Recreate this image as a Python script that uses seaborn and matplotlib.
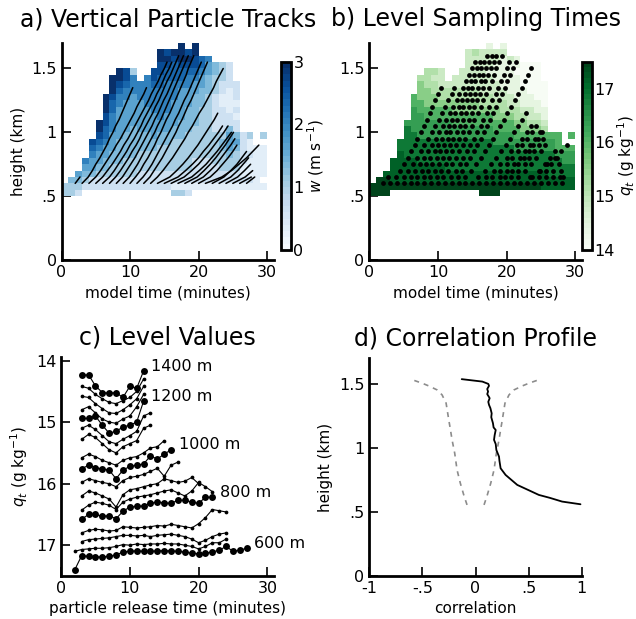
import numpy as np
import pandas as pd
import matplotlib
matplotlib.use("Agg")
import matplotlib.pyplot as plt
import seaborn as sns

# ---------------- data ----------------
# gridded fields, 1-minute x 50-m cells, one character per cell, top row (1.65-1.70 km) first
# vertical velocity code: w = code / 3 (m/s)
W_ROWS = [
    ".................9.9..........",
    "..............989989..........",
    "..............99899876........",
    "..............88788875432.....",
    "........983..887777765432.....",
    ".......9986.6877776654332.....",
    ".......9876667766665543222....",
    ".......9766666666555443212....",
    "......98665666666554432112....",
    "......97655566665554432111....",
    "......97555556665544332212....",
    "......86555555655544332221....",
    ".....986555555555444332222....",
    ".....976554555554443332242....",
    ".....87554444544443333335423.3",
    "....876544444444333333345521..",
    "....76554444443333333334542111",
    "....65544443333333333333432211",
    "...655444333333333322233332111",
    "...554433333333333322223331111",
    "..5443333332222222222222221111",
    ".4432222222222222222222222221",
    "333222222222222211111111111111",
    "332.............332...........",
]
# total water code: qt = 14 + 0.4 * code (g/kg)
QT_ROWS = [
    ".................1.1..........",
    "..............232222..........",
    "..............22222121........",
    "..............22221111000.....",
    "........332..222211110000.....",
    ".......3322.2222221111000.....",
    ".......4332222222221110000....",
    ".......4433333332222111000....",
    "......54443333333322211100....",
    "......55444444443333221110....",
    "......65555544444443332211....",
    "......66555555555544433221....",
    ".....666666655555555544332....",
    ".....766666666666655554443....",
    ".....77666666666666665555555.5",
    "....777777777777776666666665..",
    "....77777777777777777666666555",
    "....87777777777777777777777666",
    "...888877777777777777777777766",
    "...888888887777777777777777777",
    "..8888888888888888888888887777",
    ".99888888888888888888888888888",
    "999999999999999999999999988888",
    "999.............999...........",
]
TIME_EDGES = np.arange(0, 31, 1)
HEIGHT_EDGES = np.round(np.arange(0.5, 1.7001, 0.05), 3)

# particle tracks: time (min) at which each particle crosses the 50-m levels
LEVELS_KM = [0.60, 0.65, 0.70, 0.75, 0.80, 0.85, 0.90, 0.95, 1.00, 1.05, 1.10,
             1.15, 1.20, 1.25, 1.30, 1.35, 1.40, 1.45, 1.50, 1.55, 1.60]
TRACK_TIMES = [
    [2.0, 2.7],
    [3.0, 3.9, 4.5, 5.0, 5.6, 6.1, 6.6, 7.0, 7.5, 7.9, 8.4, 8.8, 9.2, 9.6, 10.0, 10.4],
    [4.0, 5.0, 5.7, 6.3, 6.9, 7.5, 8.0, 8.6, 9.1, 9.6, 10.1, 10.6, 11.0, 11.5, 12.0, 12.4],
    [5.0, 6.0, 6.7, 7.4, 8.0, 8.6, 9.1, 9.7, 10.2, 10.7, 11.2, 11.7, 12.2, 12.7, 13.1, 13.6, 14.1, 14.5, 15.0, 15.4],
    [6.0, 7.0, 7.7, 8.3, 8.9, 9.5, 10.0, 10.6, 11.1, 11.6, 12.0, 12.5, 13.0, 13.5, 13.9, 14.4, 14.8, 15.2, 15.7, 16.1],
    [7.0, 7.9, 8.6, 9.2, 9.8, 10.3, 10.9, 11.4, 11.8, 12.3, 12.8, 13.3, 13.7, 14.2, 14.6, 15.0, 15.4, 15.9, 16.3, 16.7, 17.1],
    [8.0, 8.9, 9.5, 10.1, 10.7, 11.2, 11.7, 12.2, 12.7, 13.2, 13.6, 14.1, 14.5, 14.9, 15.4, 15.8, 16.2, 16.6, 17.0, 17.4, 17.8],
    [9.0, 9.9, 10.5, 11.1, 11.6, 12.1, 12.6, 13.1, 13.6, 14.0, 14.5, 14.9, 15.3, 15.7, 16.1, 16.5, 16.9, 17.3, 17.7, 18.1, 18.5],
    [10.0, 10.8, 11.5, 12.0, 12.6, 13.1, 13.6, 14.0, 14.5, 14.9, 15.3, 15.8, 16.2, 16.6, 17.0, 17.4, 17.8, 18.2, 18.5, 18.9, 19.3],
    [11.0, 11.9, 12.6, 13.2, 13.7, 14.2, 14.7, 15.2, 15.7, 16.2, 16.6, 17.1, 17.5, 17.9, 18.4, 18.8, 19.2, 19.6, 20.0, 20.4],
    [12.0, 12.9, 13.5, 14.1, 14.7, 15.2, 15.7, 16.2, 16.7, 17.1, 17.6, 18.0, 18.4, 18.9, 19.3, 19.7, 20.1, 20.5, 20.9, 21.3],
    [13.0, 14.0, 14.8, 15.5, 16.2, 16.8, 17.4, 18.0, 18.5, 19.1, 19.6, 20.1, 20.7, 21.2, 21.7, 22.2, 22.6, 23.1, 23.6],
    [14.0, 15.8, 16.8, 17.7, 18.5, 19.2, 19.9, 20.5, 21.1, 21.7, 22.3, 22.8],
    [15.0, 17.0, 18.1, 19.1, 20.0, 20.7, 21.5, 22.2, 22.9, 23.5],
    [16.0, 17.9, 19.0, 20.0, 20.8, 21.6, 22.3, 23.0, 23.7, 24.3],
    [17.0, 19.0, 20.1, 21.1, 21.9, 22.7, 23.4, 24.1, 24.8],
    [18.0, 19.8, 20.8, 21.7, 22.5, 23.2, 23.9, 24.5, 25.1],
    [19.0, 20.7, 21.7, 22.6, 23.3, 24.0, 24.7, 25.3],
    [20.0, 21.7, 22.7, 23.5, 24.3, 25.0, 25.6],
    [21.0, 23.4, 24.8, 25.9, 27.0, 27.9, 28.8],
    [22.0, 23.7, 24.7, 25.6, 26.3, 27.0],
    [23.0, 24.7, 25.7, 26.5, 27.3],
    [24.0, 25.7, 26.7, 27.6],
    [25.0, 26.8, 27.9],
    [26.0, 27.7],
    [27.0, 28.2],
    [28.0],
]

# panel c: qt (g/kg) at each level vs particle release time (min)
LEVEL_M = [600, 650, 700, 750, 800, 850, 900, 950, 1000, 1050, 1100, 1150, 1200, 1250, 1300, 1350, 1400]
LABELED_LEVELS = [600, 800, 1000, 1200, 1400]
RELEASE_START = [2, 2, 3, 3, 3, 3, 3, 3, 3, 3, 3, 3, 3, 3, 3, 3, 3]
QT_600 = [17.40, 17.17, 17.18, 17.19, 17.19, 17.18, 17.16, 17.11, 17.10, 17.09, 17.10, 17.10, 17.09,
          17.09, 17.09, 17.10, 17.11, 17.13, 17.14, 17.13, 17.11, 17.08, 17.02, 17.10, 17.08, 17.05]
QT_650 = [17.10, 17.07, 17.06, 17.05, 17.05, 17.04, 17.02, 16.99, 17.00, 16.98, 16.99, 16.98, 16.98,
          16.97, 16.98, 16.98, 17.00, 17.02, 17.06, 17.02, 16.96, 16.96, 16.90]
QT_700 = [16.94, 16.91, 16.90, 16.89, 16.88, 16.86, 16.84, 16.84, 16.85, 16.84, 16.86, 16.84, 16.83,
          16.82, 16.84, 16.86, 16.90, 16.96, 16.92, 16.86, 16.82, 16.80]
QT_750 = [16.80, 16.76, 16.74, 16.75, 16.77, 16.76, 16.70, 16.71, 16.72, 16.71, 16.70, 16.68, 16.69,
          16.66, 16.68, 16.70, 16.72, 16.65, 16.55, 16.42, 16.44, 16.46]
QT_800 = [16.58, 16.50, 16.50, 16.53, 16.52, 16.57, 16.45, 16.38, 16.37, 16.36, 16.32, 16.30, 16.31,
          16.32, 16.27, 16.27, 16.30, 16.32, 16.22, 16.22]
QT_850 = [16.43, 16.35, 16.30, 16.32, 16.35, 16.42, 16.30, 16.25, 16.22, 16.20, 16.18, 16.15, 16.12,
          16.10, 16.15, 16.20, 16.12, 15.98, 16.05, 16.13]
QT_900 = [16.20, 16.12, 16.15, 16.20, 16.25, 16.38, 16.18, 16.10, 16.08, 16.05, 16.02, 16.00, 15.92,
          15.95, 15.98, 15.96, 15.90, 16.00]
QT_950 = [15.98, 15.92, 15.95, 15.98, 16.00, 16.05, 15.95, 15.90, 15.88, 15.85, 15.80, 15.75, 15.88,
          15.70, 15.65]
QT_1000 = [15.76, 15.70, 15.74, 15.76, 15.78, 15.92, 15.78, 15.72, 15.70, 15.68, 15.55, 15.60, 15.52, 15.45]
QT_1050 = [15.58, 15.52, 15.56, 15.62, 15.66, 15.70, 15.62, 15.58, 15.56, 15.50, 15.42, 15.40, 15.30]
QT_1100 = [15.28, 15.20, 15.25, 15.35, 15.45, 15.50, 15.40, 15.35, 15.30, 15.10, 15.05]
QT_1150 = [15.10, 15.05, 15.12, 15.22, 15.32, 15.35, 15.28, 15.22, 15.15, 14.90, 14.85]
QT_1200 = [14.94, 14.94, 14.90, 15.05, 15.18, 15.15, 15.08, 15.05, 15.00, 14.66]
QT_1250 = [14.80, 14.75, 14.85, 14.95, 15.00, 15.02, 14.95, 14.90, 14.75, 14.55]
QT_1300 = [14.58, 14.60, 14.70, 14.78, 14.85, 14.86, 14.80, 14.72, 14.62, 14.42]
QT_1350 = [14.42, 14.45, 14.55, 14.62, 14.68, 14.70, 14.65, 14.60, 14.50, 14.30]
QT_1400 = [14.24, 14.23, 14.41, 14.52, 14.53, 14.52, 14.60, 14.42, 14.45, 14.17]
QT_LEVELS = [QT_600, QT_650, QT_700, QT_750, QT_800, QT_850, QT_900, QT_950, QT_1000,
             QT_1050, QT_1100, QT_1150, QT_1200, QT_1250, QT_1300, QT_1350, QT_1400]

# panel d: correlation profile and significance threshold
CORR_HEIGHT = [1.537, 1.518, 1.500, 1.485, 1.460, 1.440, 1.420, 1.400, 1.388, 1.360, 1.336, 1.310,
               1.270, 1.240, 1.193, 1.160, 1.140, 1.100, 1.063, 1.030, 0.984, 0.932, 0.900, 0.841,
               0.789, 0.711, 0.670, 0.633, 0.610, 0.581, 0.560]
CORR_VALUE = [-0.13, 0.064, 0.120, 0.127, 0.110, 0.118, 0.110, 0.125, 0.133, 0.120, 0.127, 0.140,
              0.152, 0.148, 0.164, 0.170, 0.190, 0.180, 0.174, 0.190, 0.196, 0.221, 0.225, 0.236,
              0.283, 0.393, 0.500, 0.596, 0.700, 0.815, 0.988]
SIG_HEIGHT = [0.555, 0.633, 0.724, 0.828, 0.958, 1.063, 1.141, 1.219, 1.349, 1.414, 1.453, 1.484, 1.505, 1.537]
SIG_VALUE = [0.080, 0.111, 0.143, 0.174, 0.196, 0.221, 0.236, 0.252, 0.277, 0.315, 0.362, 0.440, 0.502, 0.612]

# ---------------- helpers ----------------
def decode(rows, scale, offset):
    arr = np.full((len(rows), len(rows[0])), np.nan)
    for i, r in enumerate(rows[::-1]):
        for j, ch in enumerate(r):
            if ch != '.':
                arr[i, j] = offset + scale * int(ch)
    return arr

W = decode(W_ROWS, 1.0 / 3.0, 0.0)
QT = decode(QT_ROWS, 0.4, 14.0)

tracks = pd.DataFrame([
    {"track": i, "t": t, "z": LEVELS_KM[k]}
    for i, times in enumerate(TRACK_TIMES) for k, t in enumerate(times)
])
levels_df = pd.DataFrame([
    {"level": lv, "t": RELEASE_START[i] + k, "qt": q}
    for i, (lv, vals) in enumerate(zip(LEVEL_M, QT_LEVELS)) for k, q in enumerate(vals)
])

# ---------------- style ----------------
sns.set_style("ticks")
plt.rcParams.update({
    "font.family": ["DejaVu Sans"],
    "mathtext.fontset": "dejavusans",
    "text.color": "black", "axes.labelcolor": "black",
    "xtick.direction": "in", "ytick.direction": "in",
    "xtick.major.size": 6.5, "ytick.major.size": 6.5,
    "xtick.major.width": 1.2, "ytick.major.width": 1.2,
    "axes.linewidth": 2.0,
    "axes.edgecolor": "black",
    "xtick.color": "black", "ytick.color": "black",
    "xtick.labelcolor": "black", "ytick.labelcolor": "black",
    "xtick.labelsize": 11.5, "ytick.labelsize": 11.5,
    "axes.labelsize": 11,
})

fig = plt.figure(figsize=(6.36, 6.19), dpi=100)
ax_a = fig.add_axes([0.0967, 0.580, 0.334, 0.3506])
cax_a = fig.add_axes([0.4414, 0.5961, 0.0157, 0.3042])
ax_b = fig.add_axes([0.5807, 0.580, 0.3347, 0.3506])
cax_b = fig.add_axes([0.9146, 0.5961, 0.0157, 0.3042])
ax_c = fig.add_axes([0.0959, 0.0695, 0.3354, 0.353])
ax_d = fig.add_axes([0.5807, 0.0695, 0.334, 0.3517])

blues = plt.get_cmap("Blues", 30)
greens = plt.get_cmap("Greens", 35)

# ---- a) tracks
m_a = ax_a.pcolormesh(TIME_EDGES, HEIGHT_EDGES, W, cmap=blues, vmin=0, vmax=3, shading="flat")
sns.lineplot(data=tracks, x="t", y="z", units="track", estimator=None, sort=False,
             color="black", lw=1.1, ax=ax_a)

# ---- b) sampling
m_b = ax_b.pcolormesh(TIME_EDGES, HEIGHT_EDGES, QT, cmap=greens, vmin=14, vmax=17.5, shading="flat")
sns.scatterplot(data=tracks, x="t", y="z", color="black", s=12, linewidth=0, ax=ax_b)

for ax in (ax_a, ax_b):
    ax.set_xlim(0, 31)
    ax.set_ylim(0, 1.7)
    ax.set_xticks([0, 10, 20, 30])
    ax.set_yticks([0, 0.5, 1, 1.5])
    ax.set_yticklabels(["0", ".5", "1", "1.5"])
    ax.set_xlabel("model time (minutes)")
    ax.set_ylabel("")
    sns.despine(ax=ax)
ax_a.set_ylabel("height (km)")
ax_a.set_title("a) Vertical Particle Tracks", fontsize=17, pad=12)
ax_b.set_title("b) Level Sampling Times", fontsize=17, pad=12)

cb_a = fig.colorbar(m_a, cax=cax_a, ticks=[0, 1, 2, 3])
cb_a.set_label("$w$ (m s$^{-1}$)", fontsize=11, labelpad=1)
cb_b = fig.colorbar(m_b, cax=cax_b, ticks=[14, 15, 16, 17])
cb_b.set_label("$q_t$ (g kg$^{-1}$)", fontsize=11, labelpad=0)
for cb in (cb_a, cb_b):
    cb.outline.set_linewidth(2)
    cb.ax.tick_params(direction="in", length=7.2, width=1.0, labelsize=11.5, pad=2)

# ---- c) level values
small = levels_df[~levels_df["level"].isin(LABELED_LEVELS)]
big = levels_df[levels_df["level"].isin(LABELED_LEVELS)]
sns.lineplot(data=small, x="t", y="qt", units="level", estimator=None, color="black", lw=0.8,
             marker="o", markersize=2.7, markeredgewidth=0, markeredgecolor="black", ax=ax_c)
sns.lineplot(data=big, x="t", y="qt", units="level", estimator=None, color="black", lw=0.8,
             marker="o", markersize=5.0, markeredgewidth=0, markeredgecolor="black", ax=ax_c)
for lv in LABELED_LEVELS:
    sub = levels_df[levels_df["level"] == lv]
    ax_c.text(sub["t"].iloc[-1] + 1.1, sub["qt"].iloc[-1] - 0.08, f"{lv} m",
              va="center", ha="left", fontsize=11.5)
ax_c.set_xlim(0, 31)
ax_c.set_ylim(17.5, 13.95)
ax_c.set_xticks([0, 10, 20, 30])
ax_c.set_yticks([14, 15, 16, 17])
ax_c.set_xlabel("particle release time (minutes)")
ax_c.set_ylabel("$q_t$ (g kg$^{-1}$)")
ax_c.set_title("c) Level Values", fontsize=17, pad=9)
sns.despine(ax=ax_c)

# ---- d) correlation profile
sig = pd.DataFrame({"h": SIG_HEIGHT, "r": SIG_VALUE})
sns.lineplot(x=sig["r"], y=sig["h"], sort=False, estimator=None, color="#8c8c8c", lw=1.2,
             linestyle=(0, (3, 3)), ax=ax_d)
sns.lineplot(x=-sig["r"], y=sig["h"], sort=False, estimator=None, color="#8c8c8c", lw=1.2,
             linestyle=(0, (3, 3)), ax=ax_d)
sns.lineplot(x=CORR_VALUE, y=CORR_HEIGHT, sort=False, estimator=None, color="black", lw=1.3, ax=ax_d)
ax_d.set_xlim(-1, 1)
ax_d.set_ylim(0, 1.7)
ax_d.set_xticks([-1, -0.5, 0, 0.5, 1])
ax_d.set_xticklabels(["-1", "-.5", "0", ".5", "1"])
ax_d.set_yticks([0, 0.5, 1, 1.5])
ax_d.set_yticklabels(["0", ".5", "1", "1.5"])
ax_d.set_xlabel("correlation")
ax_d.set_ylabel("height (km)")
ax_d.set_title("d) Correlation Profile", fontsize=17, pad=9)
sns.despine(ax=ax_d)

fig.savefig("out.png", dpi=100)
